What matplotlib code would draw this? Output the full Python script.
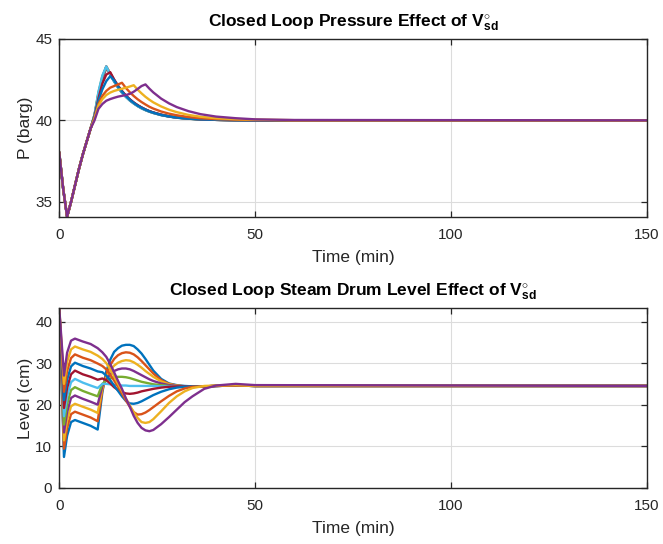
import matplotlib
matplotlib.use('Agg')
import matplotlib.pyplot as plt

plt.rcParams['font.family'] = ['Liberation Sans', 'DejaVu Sans']
plt.rcParams['mathtext.fontset'] = 'custom'
plt.rcParams['mathtext.rm'] = 'Liberation Sans'
plt.rcParams['mathtext.bf'] = 'Liberation Sans:bold'
plt.rcParams['mathtext.it'] = 'Liberation Sans:italic'

# MATLAB default line colour order
colors = ['#0072BD', '#D95319', '#EDB120', '#7E2F8E', '#77AC30', '#4DBEEE', '#A2142F']

# ---- pressure (top) ----
t_p = [0, 1, 2, 3, 4, 5, 6, 7, 8, 9, 10, 11, 12, 13, 14, 15, 16, 17, 18, 19, 20,
       21, 22, 23, 24, 26, 28, 30, 33, 36, 40, 45, 50, 60, 150]
p_start = [38.0, 35.8, 34.1, 35.0, 36.0, 37.0, 37.9, 38.7, 39.5]  # same for all runs
p_tails = [
    [40.3, 41.6, 42.6, 43.3, 42.8, 42.37, 42.0, 41.69, 41.43, 41.21, 41.03, 40.87, 40.73,
     40.62, 40.53, 40.45, 40.32, 40.23, 40.16, 40.1, 40.06, 40.03, 40.01, 40.0, 40.0, 40.0],
    [40.3, 41.6, 42.6, 43.3, 42.85, 42.42, 42.05, 41.73, 41.46, 41.24, 41.05, 40.89, 40.75,
     40.64, 40.54, 40.46, 40.33, 40.24, 40.17, 40.1, 40.06, 40.03, 40.01, 40.0, 40.0, 40.0],
    [40.3, 41.55, 42.55, 43.25, 42.88, 42.45, 42.08, 41.76, 41.49, 41.26, 41.07, 40.91, 40.77,
     40.65, 40.55, 40.47, 40.34, 40.25, 40.18, 40.11, 40.07, 40.03, 40.01, 40.0, 40.0, 40.0],
    [40.3, 41.5, 42.5, 43.2, 42.9, 42.48, 42.1, 41.78, 41.5, 41.28, 41.09, 40.92, 40.78,
     40.66, 40.56, 40.48, 40.35, 40.25, 40.18, 40.11, 40.07, 40.03, 40.01, 40.0, 40.0, 40.0],
    [40.35, 41.7, 42.7, 43.25, 42.85, 42.43, 42.06, 41.74, 41.47, 41.25, 41.06, 40.9, 40.76,
     40.64, 40.54, 40.46, 40.33, 40.24, 40.17, 40.1, 40.06, 40.03, 40.01, 40.0, 40.0, 40.0],
    [40.35, 41.75, 42.75, 43.3, 42.82, 42.4, 42.03, 41.71, 41.45, 41.23, 41.04, 40.88, 40.74,
     40.63, 40.53, 40.45, 40.32, 40.23, 40.16, 40.1, 40.06, 40.03, 40.01, 40.0, 40.0, 40.0],
    [40.25, 41.35, 42.25, 42.8, 42.95, 42.5, 42.12, 41.8, 41.52, 41.29, 41.09, 40.93, 40.79,
     40.67, 40.56, 40.48, 40.34, 40.24, 40.17, 40.11, 40.06, 40.03, 40.01, 40.0, 40.0, 40.0],
    [40.2, 41.2, 41.9, 42.4, 42.7, 42.45, 42.07, 41.76, 41.49, 41.26, 41.07, 40.9, 40.77,
     40.65, 40.55, 40.47, 40.33, 40.24, 40.17, 40.1, 40.06, 40.03, 40.01, 40.0, 40.0, 40.0],
    [40.15, 41.0, 41.5, 41.8, 42.0, 42.1, 42.2, 42.3, 41.98, 41.72, 41.49, 41.29, 41.12,
     40.97, 40.83, 40.72, 40.54, 40.41, 40.31, 40.2, 40.13, 40.07, 40.04, 40.02, 40.0, 40.0],
    [40.1, 40.9, 41.3, 41.55, 41.7, 41.8, 41.87, 41.93, 42.0, 42.07, 42.15, 41.88, 41.65,
     41.44, 41.26, 41.1, 40.85, 40.65, 40.5, 40.33, 40.22, 40.13, 40.07, 40.04, 40.01, 40.0],
    [40.0, 40.7, 41.0, 41.2, 41.3, 41.38, 41.45, 41.5, 41.55, 41.62, 41.75, 41.92, 42.1,
     42.2, 41.94, 41.71, 41.33, 41.04, 40.81, 40.56, 40.38, 40.23, 40.13, 40.06, 40.02, 40.0],
]

# ---- drum level (bottom) ----
t_l = [0, 1.2, 2, 3, 4, 6, 8, 9.8, 11, 12, 13, 14, 15, 16, 17, 18, 19, 20, 21, 22, 23, 24,
       26, 28, 30, 32, 34, 37, 40, 45, 50, 150]
level = [
    [43.2, 7.4, 12.5, 15.8, 16.3, 15.6, 14.9, 14.0, 23.0, 28.0, 30.8, 32.7, 33.6, 34.2, 34.4, 34.4,
     34.1, 33.3, 32.3, 31.0, 29.6, 28.2, 26.2, 25.1, 24.7, 24.5, 24.4, 24.4, 24.5, 24.6, 24.5, 24.5],
    [43.2, 9.4, 14.4, 17.7, 18.3, 17.6, 16.9, 16.0, 23.5, 27.2, 29.5, 31.0, 31.9, 32.4, 32.6, 32.5,
     32.1, 31.4, 30.5, 29.5, 28.5, 27.5, 25.9, 25.0, 24.6, 24.4, 24.4, 24.4, 24.5, 24.6, 24.5, 24.5],
    [43.2, 11.4, 16.3, 19.6, 20.2, 19.5, 18.8, 18.0, 24.0, 26.5, 28.3, 29.4, 30.1, 30.5, 30.7, 30.6,
     30.2, 29.6, 28.9, 28.1, 27.4, 26.7, 25.6, 24.9, 24.6, 24.4, 24.4, 24.4, 24.5, 24.6, 24.5, 24.5],
    [43.2, 13.3, 18.2, 21.6, 22.2, 21.4, 20.7, 20.0, 24.5, 26.0, 27.3, 28.1, 28.5, 28.7, 28.7, 28.5,
     28.1, 27.6, 27.1, 26.6, 26.1, 25.7, 25.1, 24.7, 24.5, 24.4, 24.4, 24.4, 24.5, 24.6, 24.5, 24.5],
    [43.2, 15.2, 20.1, 23.5, 24.2, 23.3, 22.6, 22.0, 25.0, 25.8, 26.3, 26.6, 26.7, 26.7, 26.6, 26.4,
     26.1, 25.8, 25.5, 25.3, 25.1, 24.9, 24.7, 24.5, 24.4, 24.4, 24.4, 24.4, 24.5, 24.6, 24.5, 24.5],
    [43.2, 17.2, 22.0, 25.4, 26.2, 25.3, 24.6, 24.0, 25.0, 25.0, 24.9, 24.8, 24.7, 24.6, 24.6, 24.5,
     24.5, 24.5, 24.5, 24.5, 24.5, 24.5, 24.4, 24.4, 24.4, 24.4, 24.4, 24.4, 24.5, 24.6, 24.5, 24.5],
    [43.2, 19.2, 24.0, 27.3, 28.2, 27.3, 26.7, 26.0, 26.3, 25.9, 25.1, 24.2, 23.5, 23.0, 22.7, 22.6,
     22.7, 22.9, 23.2, 23.4, 23.6, 23.8, 24.1, 24.3, 24.4, 24.4, 24.4, 24.4, 24.5, 24.6, 24.5, 24.5],
    [43.2, 21.1, 26.0, 29.2, 30.1, 29.3, 28.7, 28.0, 27.8, 27.0, 25.9, 24.6, 23.3, 22.0, 20.9, 20.3,
     20.2, 20.4, 20.8, 21.3, 21.8, 22.3, 23.1, 23.7, 24.1, 24.3, 24.4, 24.4, 24.5, 24.6, 24.5, 24.5],
    [43.2, 23.1, 28.1, 31.2, 32.1, 31.3, 30.7, 29.9, 29.3, 28.5, 27.2, 25.8, 24.3, 22.7, 21.0, 19.5,
     18.2, 17.6, 17.7, 18.1, 18.7, 19.4, 20.8, 22.1, 23.2, 23.9, 24.3, 24.4, 24.5, 24.6, 24.5, 24.5],
    [43.2, 25.0, 30.3, 33.3, 34.0, 33.3, 32.7, 31.8, 31.0, 30.0, 28.5, 26.8, 25.0, 23.3, 21.5, 19.8,
     18.2, 16.8, 15.8, 15.6, 15.8, 16.5, 18.4, 20.4, 22.0, 23.2, 24.0, 24.5, 24.6, 24.7, 24.5, 24.5],
    [43.2, 27.0, 32.5, 35.4, 35.9, 35.2, 34.6, 33.6, 32.6, 31.5, 29.8, 27.8, 25.7, 23.8, 21.5, 19.5,
     17.3, 15.6, 14.4, 13.8, 13.6, 13.9, 15.3, 17.0, 18.8, 20.6, 22.0, 23.8, 24.6, 25.0, 24.7, 24.5],
]


def style_axes(ax):
    ax.grid(True, color='#dcdcdc', linewidth=0.8)
    ax.set_axisbelow(True)
    ax.tick_params(direction='in', top=True, right=True, length=4, width=0.9,
                   colors='#262626', labelsize=11)
    ax.tick_params(axis='x', pad=8)
    ax.tick_params(axis='y', pad=5)
    for s in ax.spines.values():
        s.set_color('#262626')
        s.set_linewidth(1.0)


def main():
    fig = plt.figure(figsize=(6.63, 5.44), dpi=100)
    ax1 = fig.add_axes([0.0894, 0.6017, 0.8864, 0.3272])
    ax2 = fig.add_axes([0.0894, 0.1035, 0.8864, 0.3298])

    for i, tail in enumerate(p_tails):
        ax1.plot(t_p, p_start + tail, color=colors[i % 7], linewidth=1.7)
    ax1.set_xlim(0, 150)
    ax1.set_ylim(34.1, 45)
    ax1.set_xticks([0, 50, 100, 150])
    ax1.set_yticks([35, 40, 45])
    ax1.set_xlabel('Time (min)', fontsize=12.5, color='#262626', labelpad=6)
    ax1.set_ylabel('P (barg)', fontsize=12.5, color='#262626', labelpad=2)
    ax1.set_title(r'Closed Loop Pressure Effect of $\mathbf{V^{\circ}_{sd}}$',
                  fontsize=12.5, fontweight='bold', pad=9)
    style_axes(ax1)

    for i, vals in enumerate(level):
        ax2.plot(t_l, vals, color=colors[i % 7], linewidth=1.7)
    ax2.set_xlim(0, 150)
    ax2.set_ylim(0, 43.2)
    ax2.set_xticks([0, 50, 100, 150])
    ax2.set_yticks([0, 10, 20, 30, 40])
    ax2.set_xlabel('Time (min)', fontsize=12.5, color='#262626', labelpad=6)
    ax2.set_ylabel('Level (cm)', fontsize=12.5, color='#262626', labelpad=2)
    ax2.set_title(r'Closed Loop Steam Drum Level Effect of $\mathbf{V^{\circ}_{sd}}$',
                  fontsize=12.5, fontweight='bold', pad=9)
    style_axes(ax2)

    fig.savefig('out.png', dpi=100)


if __name__ == "__main__":
    main()
